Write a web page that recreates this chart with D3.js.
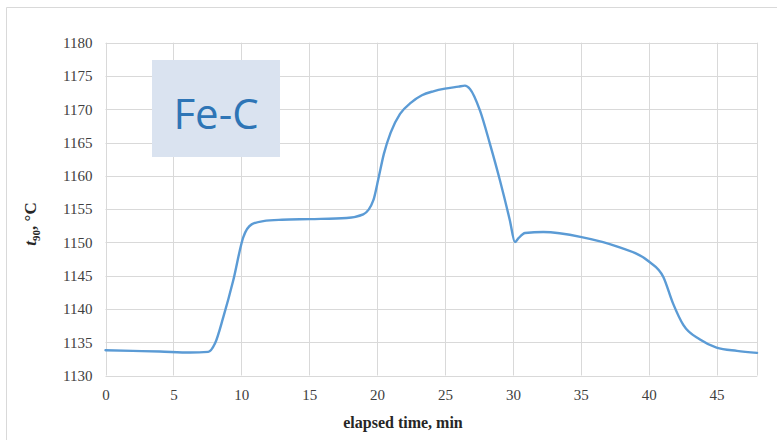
<!DOCTYPE html>
<html><head><meta charset="utf-8">
<script src="https://cdn.jsdelivr.net/npm/d3@7"></script>
<style>body{margin:0;background:#fff}svg{display:block}</style>
</head><body>
<svg id="c" width="777" height="440"></svg>
<script>
const times = [0,2,4,6.24,7.57,8.06,8.68,9.41,10.15,10.76,11.62,13,15.06,17.76,18.98,19.72,20.1,20.5,21,21.69,22.5,23.3,24.14,25,26,26.47,26.84,27.58,28.31,29.05,29.78,30.15,30.4,30.9,32.24,35.06,37.64,39.97,41.08,41.8,42.55,43.78,45,46.5,47.98];
const temps = [1133.8,1133.7,1133.6,1133.45,1133.55,1134.8,1138.8,1144.3,1150.8,1152.7,1153.2,1153.4,1153.5,1153.66,1154.2,1156.3,1159.6,1163.3,1166.5,1169.3,1171,1172.1,1172.7,1173.1,1173.4,1173.55,1173.05,1169.8,1164.8,1159.3,1153.3,1150.06,1150.6,1151.4,1151.56,1150.8,1149.4,1147.2,1144.8,1140.8,1137.6,1135.4,1134.2,1133.7,1133.4];
const xTicks = [0,5,10,15,20,25,30,35,40,45];
const yTicks = [1130,1135,1140,1145,1150,1155,1160,1165,1170,1175,1180];
const label = "Fe-C";
const xTitle = "elapsed time, min";

const svg = d3.select("#c");
const L=105.5, R=757.3, T=42.7, B=375.5;
const x = d3.scaleLinear().domain([0,48]).range([L,R]);
const y = d3.scaleLinear().domain([1130,1180]).range([B,T]);

// chart area border
svg.append("line").attr("x1",6.5).attr("x2",777).attr("y1",7.5).attr("y2",7.5).attr("stroke","#d9d9d9");
svg.append("line").attr("x1",6.5).attr("x2",6.5).attr("y1",7.5).attr("y2",440).attr("stroke","#d9d9d9");

// grid
const g = svg.append("g");
g.selectAll(".gy").data(yTicks).join("line")
  .attr("x1",L).attr("x2",R).attr("y1",d=>Math.round(y(d))+0.5).attr("y2",d=>Math.round(y(d))+0.5)
  .attr("stroke","#d9d9d9").attr("stroke-width",1);
g.selectAll(".gx").data(xTicks.concat([48])).join("line")
  .attr("x1",d=>Math.round(x(d))+0.5).attr("x2",d=>Math.round(x(d))+0.5).attr("y1",T).attr("y2",B)
  .attr("stroke","#d9d9d9").attr("stroke-width",1);

// axes labels via d3 axes
const xa = svg.append("g").attr("transform",`translate(0,${B})`)
  .call(d3.axisBottom(x).tickValues(xTicks).tickSize(0).tickPadding(14).tickFormat(d3.format("d")));
xa.select(".domain").remove();
xa.selectAll("text").attr("font-family","Liberation Serif").attr("font-size",15).attr("fill","#404040");
const ya = svg.append("g").attr("transform",`translate(${L},0)`)
  .call(d3.axisLeft(y).tickValues(yTicks).tickSize(0).tickPadding(13).tickFormat(d3.format("d")));
ya.select(".domain").remove();
ya.selectAll("text").attr("font-family","Liberation Serif").attr("font-size",15).attr("fill","#404040");

// line
svg.append("path").datum(times.map((t,i)=>[t,temps[i]]))
  .attr("fill","none").attr("stroke","#5b9bd5").attr("stroke-width",2.4)
  .attr("stroke-linejoin","round").attr("stroke-linecap","round")
  .attr("d",d3.line().x(d=>x(d[0])).y(d=>y(d[1])).curve(d3.curveMonotoneX));

// label box
svg.append("rect").attr("x",152).attr("y",60).attr("width",128).attr("height",97).attr("fill","#dae3f0");
svg.append("text").attr("x",216).attr("y",129).attr("text-anchor","middle")
  .attr("font-family","Open Sans").attr("font-size",42).attr("fill","#2e75b6").text(label);

// titles
svg.append("text").attr("x",403).attr("y",428).attr("text-anchor","middle")
  .attr("font-family","Liberation Serif").attr("font-weight","bold").attr("font-size",16).attr("fill","#262626").text(xTitle);
const yt = svg.append("text").attr("transform","translate(36,224) rotate(-90)").attr("text-anchor","middle")
  .attr("font-family","Liberation Serif").attr("font-weight","bold").attr("font-size",17).attr("fill","#262626");
yt.append("tspan").attr("font-style","italic").text("t");
yt.append("tspan").attr("font-size",11).attr("dy",4).text("90");
yt.append("tspan").attr("dy",-4).text(", °C");
</script>
</body></html>
